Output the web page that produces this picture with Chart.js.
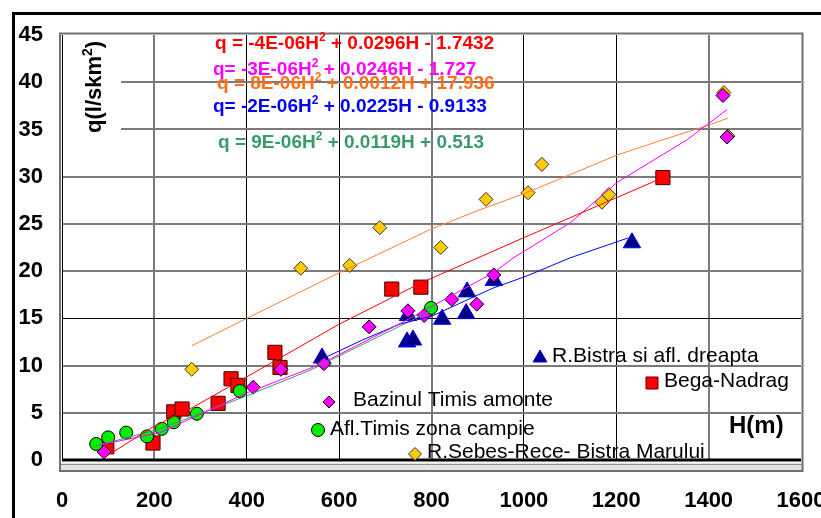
<!DOCTYPE html>
<html>
<head>
<meta charset="utf-8">
<script src="https://cdn.jsdelivr.net/npm/chart.js@4.4.1/dist/chart.umd.min.js"></script>
<style>
html, body { margin: 0; padding: 0; background: #fff; }
#wrap { width: 821px; height: 518px; position: relative; }
</style>
</head>
<body>
<div id="wrap"><canvas id="chart"></canvas></div>
<script>

// ----------------- values ---------------------------------------------------

let x_ticks = [0, 200, 400, 600, 800, 1000, 1200, 1400, 1600];
let y_ticks = [0, 5, 10, 15, 20, 25, 30, 35, 40, 45];

let series_names = ['R.Bistra si afl. dreapta', 'Bega-Nadrag', 'Bazinul Timis amonte',
                    'Afl.Timis zona campie', 'R.Sebes-Rece- Bistra Marului'];

// R.Bistra si afl. dreapta
let bistra_H = [563, 747, 760, 749, 823, 875, 877, 935, 1234];
let bistra_q = [10.8, 12.5, 12.7, 15.3, 14.9, 15.5, 17.8, 19.0, 23.0];

// Bega-Nadrag
let bega_H = [97, 197, 242, 260, 338, 366, 381, 461, 472, 714, 777, 1301];
let bega_q = [1.4, 1.8, 5.1, 5.4, 6.0, 8.6, 7.9, 11.4, 9.8, 18.1, 18.3, 29.9];

// Bazinul Timis amonte
let timis_H = [91, 414, 474, 567, 665, 749, 784, 844, 898, 935, 1431, 1440];
let timis_q = [0.85, 7.7, 9.6, 10.2, 14.1, 15.8, 15.3, 17.0, 16.5, 19.6, 38.6, 34.2];

// Afl.Timis zona campie
let campie_H = [74, 100, 139, 184, 216, 242, 292, 385, 799];
let campie_q = [1.7, 2.4, 2.9, 2.5, 3.3, 4.0, 4.9, 7.3, 16.1];

// R.Sebes-Rece- Bistra Marului
let sebes_H = [281, 517, 623, 688, 820, 918, 1009, 1039, 1169, 1184, 1433, 1442];
let sebes_q = [9.6, 20.3, 20.6, 24.6, 22.5, 27.6, 28.3, 31.3, 27.3, 28.1, 38.9, 34.3];

// trend lines, as traced on the picture
let bega_trend_H = [93, 197, 284, 400, 515, 597, 775, 998, 1202, 1301];
let bega_trend_q = [0.3, 3.5, 5.6, 8.8, 12.0, 14.3, 18.7, 23.5, 27.8, 29.9];

let timis_trend_H = [82, 212, 400, 537, 565, 738, 933, 977, 1100, 1202, 1353, 1440];
let timis_trend_q = [1.6, 2.9, 7.1, 9.7, 10.3, 14.6, 19.8, 21.4, 25.1, 29.4, 33.9, 37.1];

let sebes_trend_H = [281, 400, 595, 797, 905, 1006, 1202, 1301, 1396, 1442];
let sebes_trend_q = [12.1, 15.0, 19.7, 24.4, 26.5, 28.3, 32.3, 33.9, 35.4, 36.2];

let bistra_trend_H = [559, 650, 732, 799, 933, 1007, 1100, 1225];
let bistra_trend_q = [10.6, 12.7, 14.4, 15.2, 18.2, 19.5, 21.4, 23.5];

let campie_trend_H = [74, 212, 400, 537, 799];
let campie_trend_q = [1.5, 3.3, 6.8, 9.5, 15.8];

// equations printed on the chart (text before and after the squared H)
let eq_before = ['q = -4E-06H', 'q= -3E-06H', 'q = 8E-06H', 'q= -2E-06H', 'q = 9E-06H'];
let eq_after = [' + 0.0296H - 1.7432', ' + 0.0246H - 1.727', ' + 0.0012H + 17.936',
                ' + 0.0225H - 0.9133', ' + 0.0119H + 0.513'];


// ----------------- helpers ---------------------------------------------------

function pts(h, q) {
    return h.map((x, i) => ({ x: x, y: q[i] }));
}

const FONT = 'Arial, "Liberation Sans", sans-serif';

function trend(h, q, color) {
    return {
        data: pts(h, q),
        showLine: true,
        borderColor: color,
        borderWidth: 1,
        pointRadius: 0,
        fill: false,
        order: 0
    };
}

function marks(h, q, style, radius, fill, edge, order) {
    return {
        data: pts(h, q),
        showLine: false,
        pointStyle: style,
        pointRadius: radius,
        pointBackgroundColor: fill,
        pointBorderColor: edge,
        pointBorderWidth: 1,
        order: order
    };
}

function drawShape(ctx, style, x, y, r, fill, edge) {
    ctx.save();
    ctx.fillStyle = fill;
    ctx.strokeStyle = edge;
    ctx.lineWidth = 1;
    Chart.helpers.drawPoint(ctx, { pointStyle: style, rotation: 0, radius: r, borderWidth: 1 }, x, y);
    ctx.restore();
}


// ----------------- the decorations Chart.js has no option for ---------------

let decorations = {
    id: 'decorations',
    beforeDraw(chart) {
        let ctx = chart.ctx;
        ctx.save();
        ctx.fillStyle = '#fff';
        ctx.fillRect(0, 0, chart.width, chart.height);
        // outer black frame
        ctx.fillStyle = '#000';
        ctx.fillRect(12, 12, chart.width - 12, 3);
        ctx.fillRect(12, 12, 3, chart.height - 12);
        ctx.restore();
    },
    beforeDatasetsDraw(chart) {
        let ctx = chart.ctx;
        let a = chart.chartArea;
        ctx.save();
        // plot frame (grey 3D border)
        ctx.fillStyle = '#e4e4e4';
        ctx.fillRect(a.left - 2, a.bottom + 3, a.right - a.left + 4, 8);
        ctx.strokeStyle = '#909090';
        ctx.lineWidth = 1;
        ctx.beginPath();
        ctx.moveTo(a.left - 2, a.bottom + 4.5);
        ctx.lineTo(a.right + 2, a.bottom + 4.5);
        ctx.stroke();
        ctx.strokeStyle = '#707070';
        ctx.lineWidth = 2;
        ctx.strokeRect(a.left - 2, a.top - 1.5, a.right - a.left + 3.5, a.bottom - a.top + 12.5);
        ctx.strokeStyle = '#000';
        ctx.lineWidth = 1;
        ctx.beginPath();
        ctx.moveTo(a.left + 0.5, a.top);
        ctx.lineTo(a.left + 0.5, a.bottom);
        ctx.stroke();
        ctx.lineWidth = 3;
        ctx.beginPath();
        ctx.moveTo(a.left, a.bottom);
        ctx.lineTo(a.right, a.bottom);
        ctx.stroke();

        // y axis title on a white box
        ctx.fillStyle = '#fff';
        ctx.fillRect(a.left + 1, a.top + 1, 58, 99);
        ctx.translate(101, 133);
        ctx.rotate(-Math.PI / 2);
        ctx.fillStyle = '#000';
        ctx.font = 'bold 22px ' + FONT;
        ctx.textBaseline = 'alphabetic';
        let s = 'q(l/skm';
        ctx.fillText(s, 0, 0);
        let w = ctx.measureText(s).width;
        ctx.font = 'bold 14px ' + FONT;
        ctx.fillText('2', w, -9);
        w += ctx.measureText('2').width;
        ctx.font = 'bold 22px ' + FONT;
        ctx.fillText(')', w, 0);
        ctx.restore();
    },
    afterDraw(chart) {
        let ctx = chart.ctx;
        ctx.save();
        ctx.textBaseline = 'alphabetic';

        // trend line equations
        let eq_colors = ['#ff0000', '#ff00ff', '#ff6f1a', '#0000ff', '#3a9a6a'];
        let eq_pos = [[215, 49], [213, 75], [217, 89], [213, 112], [218, 148]];
        for (let i = 0; i < eq_before.length; i++) {
            let x = eq_pos[i][0], y = eq_pos[i][1];
            ctx.fillStyle = eq_colors[i];
            ctx.font = 'bold 19px ' + FONT;
            ctx.fillText(eq_before[i], x, y);
            x += ctx.measureText(eq_before[i]).width;
            ctx.font = 'bold 12px ' + FONT;
            ctx.fillText('2', x, y - 8);
            x += ctx.measureText('2').width;
            ctx.font = 'bold 19px ' + FONT;
            ctx.fillText(eq_after[i], x, y);
        }

        // legend scattered inside the plot
        drawShape(ctx, 'triangle', 540, 358, 8, '#000080', '#0000ff');
        drawShape(ctx, 'rect', 652, 383, 8.5, '#ff0000', '#600000');
        drawShape(ctx, 'rectRot', 329, 402, 6, '#ff00ff', '#000');
        drawShape(ctx, 'circle', 318, 430, 6.5, '#00ee00', '#000');
        drawShape(ctx, 'rectRot', 415, 454, 6.5, '#ffcc00', '#333');

        ctx.fillStyle = '#000';
        ctx.font = '21px ' + FONT;
        ctx.fillText(series_names[0], 552, 362);
        ctx.fillText(series_names[1], 664, 387);
        ctx.fillText(series_names[2], 353, 406);
        ctx.fillText(series_names[3], 330, 435);
        ctx.fillText(series_names[4], 427, 458);

        ctx.font = 'bold 24px ' + FONT;
        ctx.fillText('H(m)', 729, 433);
        ctx.restore();
    }
};


// ----------------- the chart -------------------------------------------------

let chart_context = document.getElementById('chart').getContext('2d');
let chart = new Chart(chart_context, {
    type: 'scatter',
    data: {
        datasets: [
            trend(bega_trend_H, bega_trend_q, '#ff0000'),
            trend(timis_trend_H, timis_trend_q, '#ff00ff'),
            trend(sebes_trend_H, sebes_trend_q, '#ff8033'),
            trend(bistra_trend_H, bistra_trend_q, '#0000ff'),
            trend(campie_trend_H, campie_trend_q, '#3a9a6a'),
            marks(timis_H, timis_q, 'rectRot', 7, '#ff00ff', '#000', 1),
            marks(campie_H, campie_q, 'circle', 6.5, '#00ee00', '#000', 2),
            marks(bistra_H, bistra_q, 'triangle', 10, '#000080', '#0000ff', 3),
            marks(bega_H, bega_q, 'rect', 10, '#ff0000', '#400000', 4),
            marks(sebes_H, sebes_q, 'rectRot', 7, '#ffcc00', '#333', 5)
        ]
    },
    options: {
        responsive: true,
        maintainAspectRatio: false,
        animation: false,
        layout: { padding: { top: 35, right: 20, left: 0, bottom: 0 } },
        plugins: {
            legend: { display: false },
            tooltip: { enabled: false }
        },
        scales: {
            x: {
                type: 'linear',
                min: x_ticks[0],
                max: x_ticks[x_ticks.length - 1],
                afterBuildTicks: (scale) => { scale.ticks = x_ticks.map(v => ({ value: v })); },
                afterFit: (scale) => {
                    scale.height = 58;
                    scale.paddingLeft = 0;
                    scale.paddingRight = 0;
                },
                border: { display: false },
                grid: {
                    drawTicks: false,
                    color: (c) => {
                        let v = c.tick ? c.tick.value : -1;
                        if (v === 0 || v === 1600) return 'rgba(0,0,0,0)';
                        return [200, 800, 1400].includes(v) ? '#7a7a7a' : '#000';
                    },
                    lineWidth: (c) => {
                        let v = c.tick ? c.tick.value : -1;
                        return [200, 800, 1400].includes(v) ? 2 : 1;
                    }
                },
                ticks: {
                    autoSkip: false,
                    maxRotation: 0,
                    padding: 28,
                    color: '#000',
                    font: { family: FONT, size: 22, weight: 'bold' },
                    callback: (v) => String(v)
                }
            },
            y: {
                type: 'linear',
                min: y_ticks[0],
                max: y_ticks[y_ticks.length - 1],
                afterBuildTicks: (scale) => { scale.ticks = y_ticks.map(v => ({ value: v })); },
                afterFit: (scale) => {
                    scale.width = 62;
                    scale.paddingTop = 0;
                    scale.paddingBottom = 0;
                },
                border: { display: false },
                grid: {
                    drawTicks: false,
                    color: (c) => {
                        let v = c.tick ? c.tick.value : -1;
                        if (v === 0 || v === 45) return 'rgba(0,0,0,0)';
                        return v === 15 ? '#000' : '#7a7a7a';
                    },
                    lineWidth: (c) => {
                        let v = c.tick ? c.tick.value : -1;
                        return v === 15 ? 1 : 2;
                    }
                },
                ticks: {
                    padding: 19,
                    color: '#000',
                    font: { family: FONT, size: 22, weight: 'bold' },
                    callback: (v) => String(v)
                }
            }
        }
    },
    plugins: [decorations]
});
</script>
</body>
</html>
